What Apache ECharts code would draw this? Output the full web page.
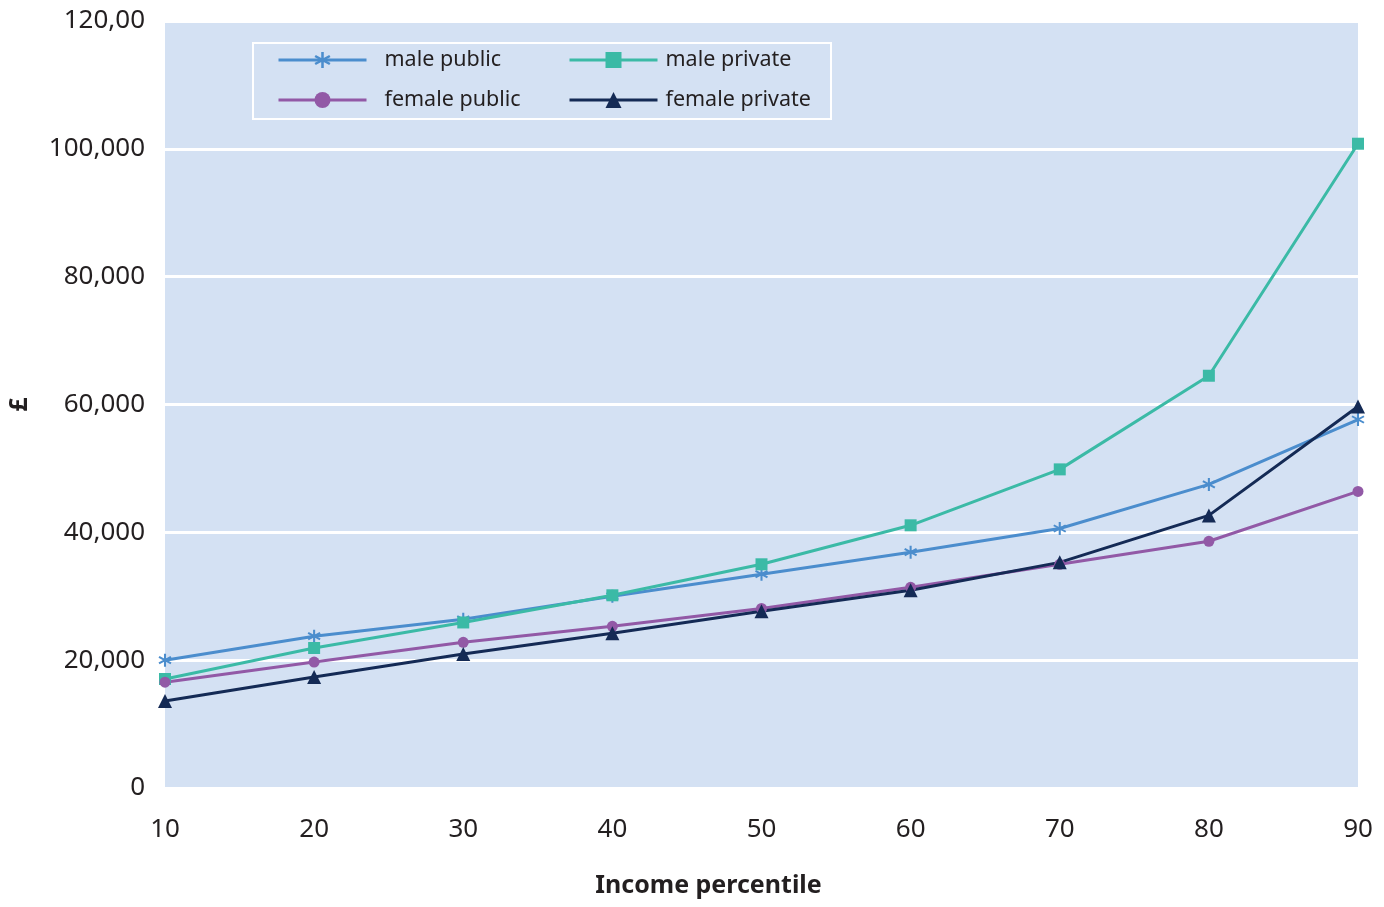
<!DOCTYPE html>
<html>
<head>
<meta charset="utf-8">
<script src="https://cdn.jsdelivr.net/npm/echarts@6/dist/echarts.min.js"></script>
<style>
  html, body { margin: 0; padding: 0; background: #ffffff; }
  #chart { width: 1384px; height: 907px; }
</style>
</head>
<body>
<div id="chart"></div>
<script>
// Income percentiles on the x axis
const percentiles = ['10', '20', '30', '40', '50', '60', '70', '80', '90'];

// Annual pay (£) at each percentile
const malePublic    = [20000, 23750, 26400, 30000, 33450, 36900, 40600, 47500, 57650];
const malePrivate   = [17050, 21900, 25900, 30150, 35000, 41100, 49850, 64500, 100800];
const femalePublic  = [16550, 19700, 22800, 25300, 28100, 31400, 35000, 38600, 46400];
const femalePrivate = [13600, 17350, 20950, 24200, 27650, 30950, 35300, 42650, 59700];

// Y axis tick labels, from 0 upward
const yTickLabels = ['0', '20,000', '40,000', '60,000', '80,000', '100,000', '120,00'];

const FONT = '"Noto Sans", "Open Sans", sans-serif';
const TEXT = '#231f20';

// six-armed asterisk marker
const asterisk = 'path://M8.5 0 L11.5 0 L11.5 20 L8.5 20 Z ' +
  'M0.59 6.3 L2.09 3.7 L19.41 13.7 L17.91 16.3 Z ' +
  'M17.91 3.7 L19.41 6.3 L2.09 16.3 L0.59 13.7 Z';

function lineSeries(name, data, color, symbol, size) {
  return {
    name: name,
    type: 'line',
    data: data,
    symbol: symbol,
    symbolSize: size,
    showAllSymbol: true,
    lineStyle: { color: color, width: 3 },
    itemStyle: { color: color, borderWidth: 0 },
    emphasis: { disabled: true },
    animation: false
  };
}

const chart = echarts.init(document.getElementById('chart'));

function legendText(gap) {
  return { fontFamily: FONT, fontSize: 21.5, color: TEXT, lineHeight: 24, padding: [0, 0, 0, gap] };
}

const legendBase = {
  orient: 'vertical',
  top: 48,
  padding: 0,
  itemWidth: 88, itemHeight: 20,
  itemGap: 16,
  lineStyle: { width: 3 },
  selectedMode: false
};

chart.setOption({
  backgroundColor: '#ffffff',
  animation: false,
  grid: {
    left: 165, right: 26, top: 21, bottom: 119,
    outerBoundsMode: 'none',
    containLabel: false,
    show: true, backgroundColor: '#d4e1f3', borderWidth: 0
  },
  graphic: [{
    type: 'rect',
    shape: { x: 253, y: 43, width: 578, height: 76 },
    style: { fill: 'none', stroke: '#ffffff', lineWidth: 2 },
    z: 5
  }],
  legend: [
    Object.assign({ data: ['male public', 'female public'], left: 277, textStyle: legendText(13) }, legendBase),
    Object.assign({ data: ['male private', 'female private'], left: 568, textStyle: legendText(3) }, legendBase)
  ],
  xAxis: {
    type: 'category',
    data: percentiles,
    boundaryGap: false,
    name: 'Income percentile',
    nameLocation: 'middle',
    nameGap: 85,
    nameTextStyle: {
      fontFamily: FONT, fontSize: 25, fontWeight: 'bold', color: TEXT,
      padding: [0, 106, 0, 0]
    },
    axisLine: { show: false },
    axisTick: { show: false },
    axisLabel: { fontFamily: FONT, fontSize: 26, color: TEXT, margin: 29 },
    splitLine: { show: false }
  },
  yAxis: {
    type: 'value',
    min: 0, max: 120000, interval: 20000,
    name: '£',
    nameLocation: 'middle',
    nameRotate: 90,
    nameGap: 133,
    nameTextStyle: { fontFamily: FONT, fontSize: 25, fontWeight: 'bold', color: TEXT },
    axisLine: { show: false },
    axisTick: { show: false },
    axisLabel: {
      fontFamily: FONT, fontSize: 26, color: TEXT, margin: 20,
      formatter: function (v) { return yTickLabels[Math.round(v / 20000)]; }
    },
    splitLine: { show: true, lineStyle: { color: '#ffffff', width: 3 } }
  },
  series: [
    lineSeries('male public', malePublic, '#4b8dcd', asterisk, 13),
    lineSeries('male private', malePrivate, '#3bbaa6', 'rect', 12),
    lineSeries('female public', femalePublic, '#9259a6', 'circle', 11),
    lineSeries('female private', femalePrivate, '#142a55', 'triangle', 14)
  ]
});
</script>
</body>
</html>
